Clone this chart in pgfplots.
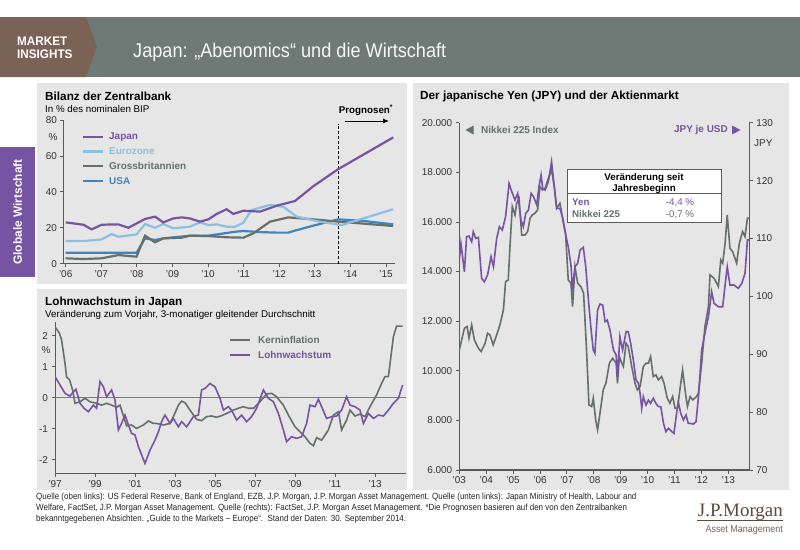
\documentclass[border=0pt]{standalone}
\usepackage{fontspec}
\setmainfont{Liberation Sans}
\newfontfamily\seriffont{Liberation Serif}
\usepackage{pgfplots}
\pgfplotsset{compat=1.18}
\usepackage{pgfplotstable}
\usetikzlibrary{arrows.meta}

\definecolor{hdr}{HTML}{6F7A77}
\definecolor{brn}{HTML}{7B6257}
\definecolor{jp}{HTML}{7753A3}
\definecolor{ez}{HTML}{8DBFE2}
\definecolor{uk}{HTML}{65706B}
\definecolor{us}{HTML}{3E84C0}
\definecolor{panel}{HTML}{E6E6E6}
\definecolor{tick}{HTML}{333333}
\definecolor{axl}{HTML}{5A5A5A}
\definecolor{logo}{HTML}{5B4A40}

\pgfplotsset{
  panelaxis/.style={
    scale only axis, anchor=south west,
    axis x line*=bottom, axis y line*=left,
    axis line style={draw=axl, line width=0.9bp, -},
    tick style={draw=axl, line width=0.8bp},
    tick align=outside, major tick length=3.5bp,
    tick label style={font=\fontsize{10}{12}\selectfont, text=tick},
    /pgf/number format/assume math mode=true,
    scaled ticks=false,
  }
}

% Bilanz der Zentralbank (% des BIP)
\pgfplotstableread{
2006.00 23.0
2006.50 21.7
2006.73 19.1
2007.01 21.7
2007.48 21.9
2007.76 20.0
2008.23 24.9
2008.51 26.2
2008.74 23.0
2009.02 25.2
2009.26 25.8
2009.49 25.2
2009.77 23.4
2010.01 24.7
2010.24 27.7
2010.52 30.3
2010.71 27.7
2010.99 29.5
2011.46 29.0
2011.93 32.3
2012.44 34.9
2012.96 43.2
2013.66 52.7
2015.20 70.3
}\bsjapan
\pgfplotstableread{
2006.00 12.6
2006.50 12.6
2007.01 13.5
2007.29 16.5
2007.48 15.0
2007.99 16.3
2008.23 22.1
2008.51 20.0
2008.74 22.1
2009.02 19.7
2009.49 20.6
2009.77 23.0
2010.01 21.5
2010.24 21.9
2010.52 20.6
2010.76 20.6
2010.99 22.8
2011.22 29.9
2011.74 32.7
2012.11 31.7
2012.49 26.2
2013.14 23.4
2013.75 21.5
2015.20 30.3
}\bseuro
\pgfplotstableread{
2006.00 3.0
2006.50 2.6
2007.01 3.0
2007.48 4.8
2007.99 3.9
2008.23 15.6
2008.51 11.9
2008.74 14.1
2009.26 14.5
2009.49 15.6
2010.01 15.4
2010.52 14.7
2010.99 14.5
2011.27 16.9
2011.74 23.4
2012.25 25.8
2012.96 24.7
2013.66 23.4
2015.20 21.0
}\bsuk
\pgfplotstableread{
2006.00 6.1
2007.99 6.1
2008.23 14.1
2008.51 13.2
2008.74 14.1
2009.49 15.6
2010.01 15.6
2010.76 17.8
2010.99 18.2
2011.46 17.6
2011.93 17.3
2012.25 17.3
2012.49 18.7
2012.96 21.2
2013.66 24.7
2014.36 23.8
2015.20 21.9
}\bsusa

% Lohnwachstum / Kerninflation (% gg. Vj.)
\pgfplotstableread{
1997.00 2.29
1997.22 2.08
1997.33 1.86
1997.50 1.11
1997.58 0.66
1997.72 0.59
1997.88 0.25
1998.00 -0.18
1998.25 -0.13
1998.50 -0.02
1998.75 -0.13
1999.08 -0.18
1999.33 -0.24
1999.58 -0.18
1999.83 -0.24
2000.08 -0.31
2000.25 -0.24
2000.58 -0.91
2000.83 -0.88
2001.08 -0.99
2001.42 -0.88
2001.67 -0.75
2001.92 -0.83
2002.08 -0.83
2002.42 -0.88
2002.75 -0.83
2002.92 -0.61
2003.17 -0.24
2003.33 -0.11
2003.50 -0.16
2003.75 -0.40
2004.08 -0.70
2004.33 -0.74
2004.58 -0.61
2004.83 -0.59
2005.08 -0.63
2005.33 -0.58
2005.67 -0.48
2005.92 -0.40
2006.17 -0.34
2006.42 -0.29
2006.67 -0.34
2006.92 -0.34
2007.25 -0.13
2007.58 0.12
2007.83 0.14
2008.08 0.03
2008.42 -0.24
2008.67 -0.56
2009.00 -0.94
2009.25 -1.10
2009.50 -1.26
2009.75 -1.47
2009.92 -1.55
2010.08 -1.29
2010.33 -1.37
2010.67 -1.04
2010.92 -0.56
2011.17 -0.45
2011.33 -1.04
2011.58 -0.72
2011.75 -0.40
2012.00 -0.59
2012.25 -0.53
2012.50 -0.61
2012.75 -0.29
2013.08 0.09
2013.33 0.46
2013.50 0.68
2013.67 0.68
2013.92 1.97
2014.08 2.31
2014.38 2.31
}\kerninf
\pgfplotstableread{
1997.00 0.68
1997.25 0.41
1997.50 0.14
1997.75 0.05
1997.83 0.12
1997.92 0.19
1998.05 0.27
1998.25 -0.18
1998.45 -0.34
1998.67 -0.45
1998.92 -0.24
1999.08 -0.34
1999.25 0.52
1999.42 0.35
1999.58 0.03
1999.83 0.25
2000.00 -0.08
2000.17 -1.04
2000.33 -0.83
2000.50 -0.56
2000.67 -0.88
2000.83 -1.15
2001.00 -1.20
2001.17 -1.58
2001.50 -2.12
2001.75 -1.69
2002.00 -1.37
2002.17 -1.10
2002.33 -0.77
2002.50 -0.56
2002.75 -0.83
2002.92 -0.67
2003.17 -0.94
2003.33 -0.77
2003.58 -0.94
2003.92 -0.61
2004.17 -0.56
2004.33 0.25
2004.50 0.30
2004.75 0.46
2005.00 0.35
2005.25 -0.02
2005.42 -0.40
2005.67 -0.29
2005.83 -0.40
2006.08 -0.72
2006.33 -0.56
2006.58 -0.77
2006.83 -0.61
2007.08 -0.34
2007.42 0.25
2007.67 -0.02
2007.92 -0.13
2008.17 -0.51
2008.42 -1.04
2008.58 -1.42
2008.83 -1.26
2009.08 -1.31
2009.33 -1.26
2009.58 -0.83
2009.75 -0.24
2010.00 -0.29
2010.17 -0.05
2010.33 -0.29
2010.58 -0.67
2010.83 -0.61
2011.08 -0.59
2011.33 -0.40
2011.58 0.03
2011.75 -0.24
2012.00 -0.29
2012.25 -0.40
2012.42 -0.83
2012.67 -0.51
2012.92 -0.67
2013.17 -0.56
2013.42 -0.59
2013.67 -0.40
2013.92 -0.18
2014.17 -0.02
2014.38 0.41
}\lohn

% Nikkei 225 (Index) und JPY je USD
\pgfplotstableread{
2003.00 10842
2003.06 11111
2003.19 11715
2003.29 11782
2003.36 11312
2003.46 11849
2003.56 11245
2003.71 10909
2003.81 10775
2003.96 11111
2004.05 11513
2004.14 11446
2004.26 11043
2004.39 11446
2004.51 11849
2004.64 12454
2004.72 13595
2004.82 13662
2004.89 15140
2004.97 16617
2005.07 16281
2005.13 16751
2005.22 16953
2005.32 15475
2005.44 15475
2005.54 15610
2005.63 16147
2005.71 16281
2005.81 16348
2005.91 16483
2006.00 17423
2006.09 17288
2006.19 17356
2006.31 17758
2006.43 18094
2006.53 17423
2006.62 16550
2006.74 16751
2006.83 16214
2006.95 15542
2007.05 13662
2007.15 13528
2007.21 12588
2007.30 14199
2007.40 13528
2007.52 13394
2007.62 13125
2007.73 10842
2007.82 8626
2007.92 8559
2007.98 8895
2008.07 8022
2008.14 7619
2008.23 8290
2008.35 9230
2008.45 9499
2008.58 10305
2008.70 10506
2008.83 10305
2008.88 9499
2008.95 10573
2009.04 10305
2009.10 10170
2009.20 11111
2009.28 10976
2009.41 10170
2009.53 9499
2009.62 9230
2009.72 9365
2009.84 10170
2009.94 10305
2010.03 10305
2010.11 10573
2010.21 9768
2010.31 9835
2010.40 9633
2010.52 9768
2010.61 9499
2010.73 8895
2010.83 8693
2010.93 8962
2011.02 8492
2011.11 8492
2011.20 9230
2011.30 10036
2011.39 9230
2011.48 8559
2011.58 8962
2011.68 8827
2011.82 8962
2011.89 9096
2012.01 10305
2012.13 11782
2012.26 12588
2012.32 13864
2012.47 13729
2012.63 13394
2012.72 14468
2012.79 14334
2012.88 15140
2012.96 16281
2013.06 14938
2013.16 14804
2013.31 14334
2013.41 15140
2013.53 15610
2013.62 15408
2013.71 16147
2013.78 16147
}\nikkei
\pgfplotstableread{
2003.00 106.28
2003.06 109.15
2003.19 104.26
2003.27 110.31
2003.36 110.42
2003.46 109.44
2003.52 111.17
2003.61 110.02
2003.71 110.19
2003.83 103.11
2003.93 102.53
2004.05 103.68
2004.18 106.85
2004.27 105.12
2004.39 110.02
2004.49 112.03
2004.60 111.46
2004.72 113.76
2004.85 119.52
2004.95 118.08
2005.07 116.64
2005.17 117.79
2005.29 113.19
2005.38 112.03
2005.47 114.34
2005.57 114.91
2005.67 117.79
2005.76 117.22
2005.88 115.78
2005.96 118.95
2006.04 120.96
2006.10 118.66
2006.19 118.37
2006.31 119.81
2006.43 123.26
2006.53 118.95
2006.62 115.20
2006.74 115.20
2006.83 113.76
2006.93 111.17
2007.05 108.58
2007.15 105.41
2007.21 101.09
2007.30 105.12
2007.40 105.70
2007.49 108.00
2007.61 108.46
2007.70 105.12
2007.80 99.36
2007.90 94.18
2007.98 90.73
2008.04 90.15
2008.14 97.64
2008.23 98.67
2008.33 98.50
2008.42 95.62
2008.50 95.91
2008.60 94.18
2008.73 90.73
2008.83 89.86
2008.88 86.12
2008.97 93.03
2009.07 90.73
2009.20 93.89
2009.28 93.89
2009.37 91.88
2009.47 89.00
2009.57 85.54
2009.66 84.97
2009.72 83.24
2009.78 80.65
2009.84 82.66
2009.94 81.22
2010.03 82.09
2010.11 81.51
2010.21 82.38
2010.31 81.51
2010.40 80.94
2010.49 80.94
2010.59 78.06
2010.68 76.62
2010.78 77.19
2010.90 76.62
2010.98 76.33
2011.06 79.21
2011.14 81.80
2011.23 79.78
2011.33 78.63
2011.43 79.50
2011.51 78.06
2011.58 78.06
2011.70 77.94
2011.80 78.34
2011.89 82.66
2012.01 90.73
2012.13 93.61
2012.26 96.48
2012.38 100.80
2012.47 98.79
2012.63 98.21
2012.79 98.21
2012.88 101.96
2012.96 105.12
2013.06 101.96
2013.21 101.96
2013.37 101.38
2013.50 102.24
2013.62 103.97
2013.71 109.73
2013.78 109.73
}\jpy

\begin{document}
\begin{tikzpicture}
\path[use as bounding box, fill=white] (0,0) rectangle (800bp,-550bp);

\begin{scope}[x=1bp,y=-1bp]
  % header
  \fill[hdr] (0,17) rectangle (800,77);
  \fill[brn] (0,17) -- (86,17) -- (97,47) -- (86,77) -- (0,77) -- cycle;
  \node[anchor=base west, inner sep=0, text=white, font=\bfseries\fontsize{12.5}{13}\selectfont] at (17,45) {\scalebox{0.94}[1]{MARKET}};
  \node[anchor=base west, inner sep=0, text=white, font=\bfseries\fontsize{12.5}{13}\selectfont] at (17,58) {\scalebox{0.94}[1]{INSIGHTS}};
  \node[anchor=base west, inner sep=0, text=white!94!hdr, font=\fontsize{20}{24}\selectfont] at (133,57.3) {\scalebox{0.91}[1]{Japan: „Abenomics“ und die Wirtschaft}};
  % side tab
  \fill[jp] (0,147) rectangle (35,277);
  \node[rotate=90, text=white, font=\bfseries\fontsize{12}{14}\selectfont] at (17.5,212) {Globale Wirtschaft};
  % panels
  \fill[panel] (36.7,83.3) rectangle (407,284);
  \fill[panel] (36.7,289) rectangle (407,490);
  \fill[panel] (413,83.3) rectangle (789,490);
\end{scope}

% ---- Bilanz der Zentralbank
\begin{axis}[panelaxis, at={(63.9bp,-263.7bp)}, width=331.1bp, height=143.7bp,
  xmin=2005.95, xmax=2015.25, ymin=0, ymax=80,
  xtick={2006,...,2015}, xticklabels={'06,'07,'08,'09,'10,'11,'12,'13,'14,'15},
  ytick={0,20,40,60,80}]
  \addplot[dashed, black, line width=1bp, dash pattern=on 3bp off 2bp] coordinates {(2013.66,0) (2013.66,78)};
  \addplot[us, line width=2.2bp] table {\bsusa};
  \addplot[uk, line width=2.2bp] table {\bsuk};
  \addplot[ez, line width=2.2bp] table {\bseuro};
  \addplot[jp, line width=2.2bp] table {\bsjapan};
\end{axis}

% ---- Lohnwachstum in Japan
\begin{axis}[panelaxis, at={(55bp,-473.65bp)}, width=351bp, height=151.9bp,
  xmin=1997, xmax=2014.55, ymin=-2.45, ymax=2.45,
  xtick={1997,1999,...,2013}, xticklabels={'97,'99,'01,'03,'05,'07,'09,'11,'13},
  ytick={-2,-1,0,1,2}]
  \addplot[axl!80, line width=1.3bp] coordinates {(1997,0) (2014.55,0)};
  \addplot[uk, line width=1.6bp] table {\kerninf};
  \addplot[jp, line width=1.6bp] table {\lohn};
\end{axis}

% ---- Yen und Aktienmarkt
\begin{axis}[panelaxis, at={(459.3bp,-470bp)}, width=290bp, height=347.3bp,
  axis line style={draw=axl, line width=1.3bp, -},
  xmin=2003, xmax=2013.78, ymin=6000, ymax=20000,
  xtick={2003,...,2013}, xticklabels={'03,'04,'05,'06,'07,'08,'09,'10,'11,'12,'13},
  ytick={6000,8000,...,20000},
  /pgf/number format/.cd, 1000 sep={.}, use comma]
  \addplot[uk, line width=1.6bp] table {\nikkei};
\end{axis}
\begin{axis}[panelaxis, at={(459.3bp,-470bp)}, width=290bp, height=347.3bp,
  axis x line=none, axis y line*=right,
  axis line style={draw=axl, line width=1.3bp, -},
  xmin=2003, xmax=2013.78, ymin=70, ymax=130,
  ytick={70,80,...,130}]
  \addplot[jp, line width=1.6bp] table {\jpy};
\end{axis}

\begin{scope}[x=1bp,y=-1bp]
  % titles top-left
  \node[anchor=base west, inner sep=0, font=\bfseries\fontsize{11.8}{13}\selectfont] at (45,100) {Bilanz der Zentralbank};
  \node[anchor=base west, inner sep=0, font=\fontsize{9.8}{11}\selectfont] at (45,112.5) {In \% des nominalen BIP};
  \node[anchor=base, inner sep=0, text=tick, font=\fontsize{10}{12}\selectfont] at (53,140) {\%};
  \node[anchor=base, inner sep=0, font=\bfseries\fontsize{9.8}{11}\selectfont] at (366,113) {Prognosen\textsuperscript{*}};
  \draw[line width=0.8bp, -{Latex[length=6bp,width=5bp]}] (345,121) -- (389,121);
  % legend top-left
  \foreach \yy/\cc/\tt in {136.7/jp/Japan, 151.5/ez/Eurozone, 166/uk/Grossbritannien, 180.7/us/USA}{
    \draw[\cc, line width=2.4bp] (83,\yy) -- (103,\yy);
    \node[anchor=west, inner sep=0, text=\cc, font=\bfseries\fontsize{10}{12}\selectfont] at (109,\yy) {\tt};
  }
  % titles bottom-left
  \node[anchor=base west, inner sep=0, font=\bfseries\fontsize{11.8}{13}\selectfont] at (45,305.5) {Lohnwachstum in Japan};
  \node[anchor=base west, inner sep=0, font=\fontsize{9.8}{11}\selectfont] at (45,317.5) {Veränderung zum Vorjahr, 3-monatiger gleitender Durchschnitt};
  \node[anchor=base, inner sep=0, text=tick, font=\fontsize{10}{12}\selectfont] at (46,353.5) {\%};
  \draw[uk, line width=2.2bp] (230,340) -- (250,340);
  \node[anchor=west, inner sep=0, text=uk, font=\bfseries\fontsize{10}{12}\selectfont] at (258,340) {Kerninflation};
  \draw[jp, line width=2.2bp] (230,355) -- (250,355);
  \node[anchor=west, inner sep=0, text=jp, font=\bfseries\fontsize{10}{12}\selectfont] at (258,355) {Lohnwachstum};
  % right panel
  \node[anchor=base west, inner sep=0, font=\bfseries\fontsize{11.8}{13}\selectfont] at (420,99.5) {Der japanische Yen (JPY) und der Aktienmarkt};
  \fill[uk] (465.5,130) -- (473.5,125.5) -- (473.5,134.5) -- cycle;
  \node[anchor=west, inner sep=0, text=uk, font=\bfseries\fontsize{10}{12}\selectfont] at (481,130) {Nikkei 225 Index};
  \node[anchor=east, inner sep=0, text=jp, font=\bfseries\fontsize{10}{12}\selectfont] at (728,130) {JPY je USD};
  \fill[jp] (732,125.5) -- (740.5,130) -- (732,134.5) -- cycle;
  \node[anchor=base west, inner sep=0, text=tick, font=\fontsize{10}{12}\selectfont] at (754,146) {JPY};
  % box
  \filldraw[fill=white, draw=axl, line width=1bp] (567,169) rectangle (721,222.7);
  \draw[axl, line width=0.8bp] (567,193.3) -- (721,193.3);
  \node[anchor=base, inner sep=0, font=\bfseries\fontsize{9.8}{11}\selectfont] at (644,180) {Veränderung seit};
  \node[anchor=base, inner sep=0, font=\bfseries\fontsize{9.8}{11}\selectfont] at (644,191) {Jahresbeginn};
  \node[anchor=base west, inner sep=0, text=jp, font=\bfseries\fontsize{9.8}{11}\selectfont] at (572,205.2) {Yen};
  \node[anchor=base west, inner sep=0, text=uk, font=\bfseries\fontsize{9.8}{11}\selectfont] at (572,217.8) {Nikkei 225};
  \node[anchor=base, inner sep=0, text=jp, font=\fontsize{9.8}{11}\selectfont] at (680,205.2) {-4,4 \%};
  \node[anchor=base, inner sep=0, text=uk, font=\fontsize{9.8}{11}\selectfont] at (680,217.8) {-0,7 \%};
  % footer
  \begin{scope}[every node/.style={anchor=base west, inner sep=0, text=black!85, font=\fontsize{9}{10}\selectfont}]
    \node at (36,499) {\scalebox{0.89}[1]{Quelle (oben links): US Federal Reserve, Bank of England, EZB, J.P. Morgan, J.P. Morgan Asset Management. Quelle (unten links): Japan Ministry of Health, Labour and}};
    \node at (36,510) {\scalebox{0.89}[1]{Welfare, FactSet, J.P. Morgan Asset Management. Quelle (rechts): FactSet, J.P. Morgan Asset Management. *Die Prognosen basieren auf den von den Zentralbanken}};
    \node at (36,521) {\scalebox{0.89}[1]{bekanntgegebenen Absichten. „Guide to the Markets – Europe“.\ \ Stand der Daten: 30. September 2014.}};
  \end{scope}
  % logo
  \node[anchor=base east, inner sep=0, text=logo, font=\seriffont\fontsize{19}{20}\selectfont] at (783,516) {J.P.Morgan};
  \draw[logo, line width=0.5bp] (697,520) -- (783,520);
  \node[anchor=base east, inner sep=0, text=logo!85, font=\fontsize{10}{12}\selectfont] at (783,532) {\scalebox{0.9}[1]{Asset Management}};
\end{scope}
\end{tikzpicture}
\end{document}
